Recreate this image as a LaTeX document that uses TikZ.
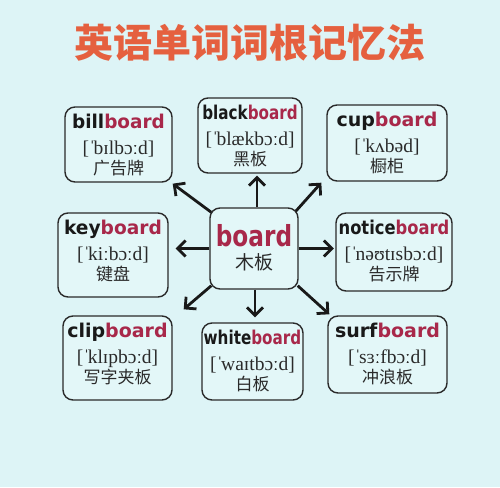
\documentclass[tikz,border=0pt]{standalone}
\usepackage{fontspec}
\usepackage{graphicx}
\setmainfont{Liberation Serif}
\newfontfamily\wordfont{DejaVu Sans}
\newfontfamily\cjk{Noto Sans CJK SC}
\usetikzlibrary{arrows.meta}
\definecolor{bgc}{HTML}{DDF4F6}
\definecolor{boxc}{HTML}{E3F7F8}
\definecolor{bred}{HTML}{A8284A}
\definecolor{titc}{HTML}{E5603F}
\definecolor{txt}{HTML}{2A2A2A}
\newcommand\stz{ˈ\kern-2pt}
\pgfdeclarelayer{back}
\pgfdeclarelayer{mid}
\pgfsetlayers{back,mid,main}
\tikzset{
 wbox/.style={draw=txt, line width=1.4pt, rounded corners=10pt, fill=boxc, inner sep=0pt},
 wordtxt/.style={anchor=base, inner sep=0pt, font=\wordfont\bfseries\fontsize{19}{21}\selectfont, text=black!90},
 ipatxt/.style={anchor=base, inner sep=0pt, font=\fontsize{19.5}{21}\selectfont, text=txt},
 cntxt/.style={anchor=base, inner sep=0pt, font=\cjk\fontsize{17}{20}\selectfont, text=txt},
 arr/.style={line width=2.8pt, -{Straight Barb[length=8pt,width=16pt]}, draw=black!90},
}
\newcommand\wbox[9]{%
 \node[wbox, minimum width=#4pt, minimum height=#5pt] (#1) at (#2,#3) {};
 \node[wordtxt] (#1-w) at ([yshift=-22pt]#1.north) {\scalebox{#7}[1]{#6\textcolor{bred}{board}}};
 \node[ipatxt] (#1-p) at ([yshift=-48pt]#1.north) {#8};
 \node[cntxt] (#1-c) at ([yshift=-68pt]#1.north) {#9};
}
\begin{document}
\begin{tikzpicture}[x=1pt,y=-1pt]
\begin{pgfonlayer}{back}
\fill[bgc] (0,0) rectangle (500,487);
\end{pgfonlayer}
\useasboundingbox (0,0) rectangle (500,487);
\node[font=\cjk\bfseries\fontsize{39}{44}\selectfont, text=titc] (title) at (250,43) {英语单词词根记忆法};
% center
\node[wbox, minimum width=88pt, minimum height=81pt] (c) at (254,248.5) {};
\node[anchor=base, inner sep=0pt, font=\wordfont\bfseries\fontsize{29}{31}\selectfont, text=bred] (c-w) at ([yshift=-39pt]c.north) {\scalebox{0.8}[1]{board}};
\node[cntxt, font=\cjk\fontsize{19}{22}\selectfont] (c-c) at ([yshift=-62pt]c.north) {木板};
% boxes
\wbox{bill}{118.5}{144.5}{107}{75}{bill}{0.97}{[\stz bɪlbɔːd]}{广告牌}
\wbox{black}{250}{135.5}{104}{75}{black}{0.80}{[\stz blækbɔːd]}{黑板}
\wbox{cup}{387}{143}{120}{76}{cup}{1.0}{[\stz kʌbəd]}{橱柜}
\wbox{key}{113}{255}{110}{84}{key}{0.98}{[\stz kiːbɔːd]}{键盘}
\wbox{notice}{394}{252}{116}{78}{notice}{0.86}{[\stz nəʊtɪsbɔːd]}{告示牌}
\wbox{clip}{117.5}{358}{109}{84}{clip}{1.0}{[\stz klɪpbɔːd]}{写字夹板}
\wbox{white}{252.5}{361.5}{101}{77}{white}{0.80}{[\stz waɪtbɔːd]}{白板}
\wbox{surf}{387.5}{354.5}{119}{77}{surf}{1.0}{[\stz sɜːfbɔːd]}{冲浪板}
% arrows
\begin{pgfonlayer}{mid}
\draw[arr, shorten >=2pt] ([xshift=3pt]c.north) -- ([xshift=3pt]c.north |- black.south);
\draw[arr, shorten >=5pt] ([xshift=1pt]c.south) -- ([xshift=1pt]c.south |- white.north);
\draw[arr, shorten >=7pt] (c.west) -- (c.west -| key.east);
\draw[arr, shorten >=1.5pt] (c.east) -- (c.east -| notice.west);
\draw[arr] ([shift={(2,5)}]c.north west) -- ([shift={(0,1)}]bill.south east);
\draw[arr] ([shift={(-3,4)}]c.north east) -- ([shift={(-5,1)}]cup.south west);
\draw[arr] ([shift={(2,-4)}]c.south west) -- ([shift={(11,-6)}]clip.north east);
\draw[arr] ([shift={(-1,-4)}]c.south east) -- ([shift={(2,-1)}]surf.north west);
\end{pgfonlayer}
\end{tikzpicture}
\end{document}
